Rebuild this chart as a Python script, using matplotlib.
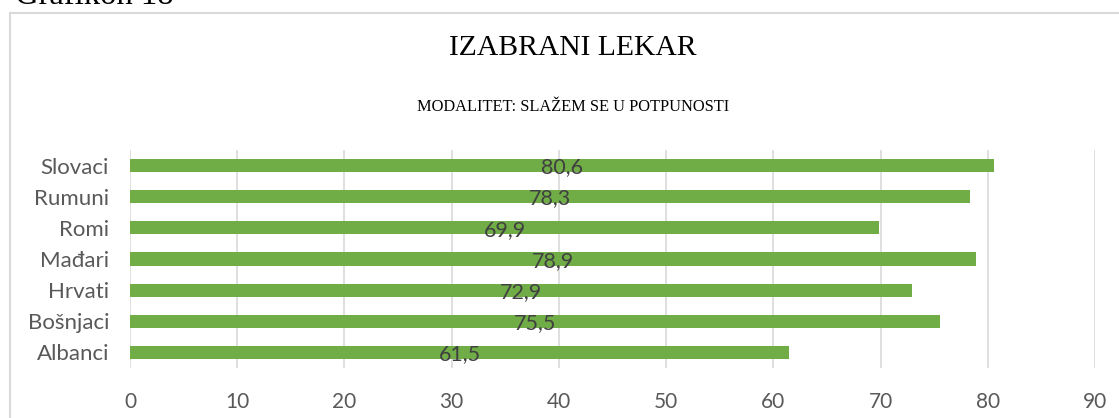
import matplotlib
matplotlib.use('Agg')
import matplotlib.pyplot as plt
from matplotlib.patches import Rectangle

# podaci (odozdo nagore)
groups = ['Albanci', 'Bošnjaci', 'Hrvati', 'Mađari', 'Romi', 'Rumuni', 'Slovaci']
values = [61.5, 75.5, 72.9, 78.9, 69.9, 78.3, 80.6]
xticks = [0, 10, 20, 30, 40, 50, 60, 70, 80, 90]

fig = plt.figure(figsize=(11.19, 4.18), dpi=100)

# okvir grafika
fig.patches.append(Rectangle((10 / 1119, -0.1), 1.2, 1 - 13 / 418 + 0.1,
                             transform=fig.transFigure, fill=False,
                             edgecolor='#d9d9d9', linewidth=1.5))

fig.text(15 / 1119, 1 - 4 / 418, 'Grafikon 18', family='Liberation Serif',
         fontsize=23.5, va='baseline', ha='left', color='#000000')

fig.text(0.512, 1 - 48 / 418, 'IZABRANI LEKAR', family='Liberation Serif',
         fontsize=21.3, ha='center', va='center')
fig.text(0.512, 1 - 107 / 418, 'MODALITET: SLAŽEM SE U POTPUNOSTI', family='Liberation Serif',
         fontsize=11.8, ha='center', va='center')

ax = fig.add_axes([130 / 1119, 1 - 368 / 418, (1095 - 130) / 1119, 218 / 418])
y = range(len(groups))
ax.barh(y, values, height=0.42, color='#70ad47', zorder=2)
for i, v in enumerate(values):
    ax.text(v / 2, i - 0.06, ('%.1f' % v).replace('.', ','), ha='center', va='center',
            fontsize=15.5, color='#404040', family='Lato', zorder=3)

ax.set_xlim(0, 90)
ax.set_ylim(-0.5, len(groups) - 0.5)
ax.set_xticks(xticks)
ax.set_yticks(list(y))
ax.set_yticklabels(groups)
ax.xaxis.grid(True, color='#d9d9d9', linewidth=1.2, zorder=0)
ax.set_axisbelow(True)
for s in ax.spines.values():
    s.set_visible(False)
ax.tick_params(axis='both', length=0, labelcolor='#595959')
ax.tick_params(axis='x', pad=17, labelsize=15)
ax.tick_params(axis='y', pad=15, labelsize=16)
for lab in ax.get_xticklabels() + ax.get_yticklabels():
    lab.set_family('Lato')

fig.savefig('out.png', dpi=100)
